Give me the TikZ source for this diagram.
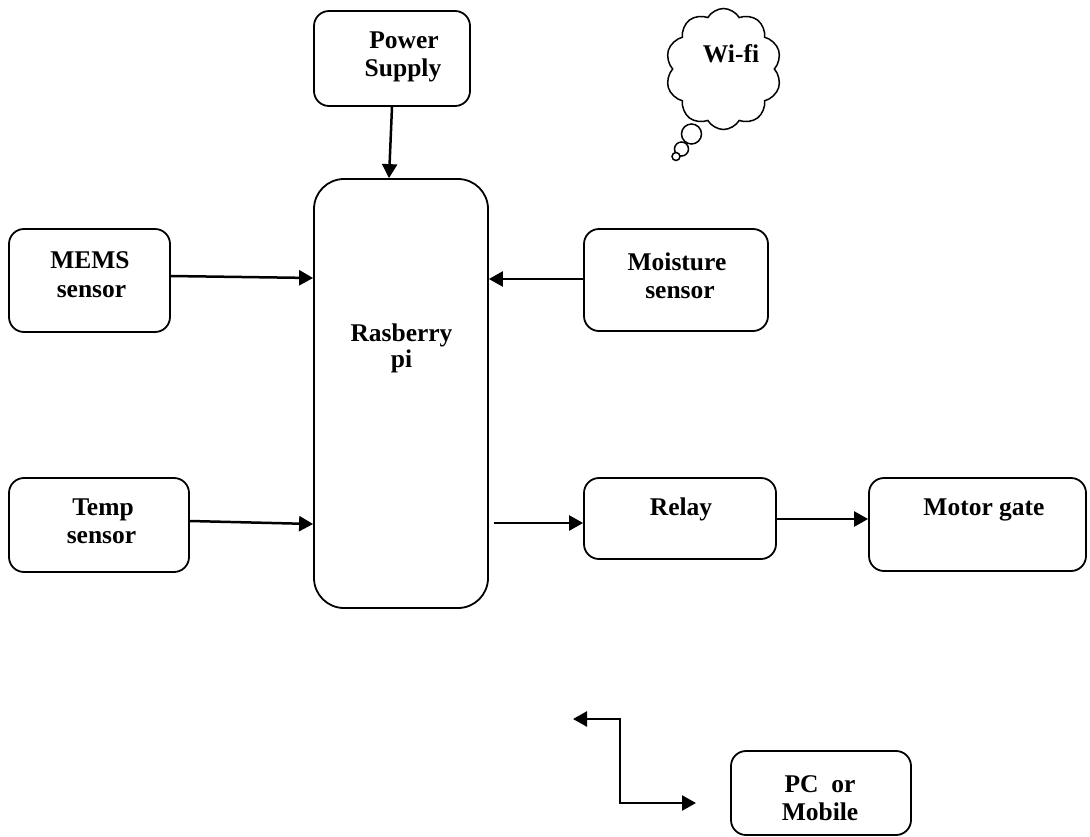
\documentclass[tikz,border=0pt]{standalone}
\usepackage{fontspec}
\setmainfont{Liberation Serif}
\usetikzlibrary{arrows.meta,shapes.symbols}
\begin{document}
\begin{tikzpicture}[x=1pt,y=-1pt,
  box/.style={draw,line width=1.8pt,rounded corners=15pt,inner sep=0pt},
  txt/.style={font=\fontsize{25.5}{28}\selectfont\bfseries,anchor=base,inner sep=0pt},
  tip/.tip={Triangle[length=14pt,width=15pt]},
  arr/.style={line width=2.5pt,-tip}]
\useasboundingbox (0,0) rectangle (1090,836);
% boxes
\node[box,minimum width=156pt,minimum height=95pt] (power) at (392,58.5) {};
\node[box,rounded corners=30pt,minimum width=174pt,minimum height=429pt] (rpi) at (401,393.5) {};
\node[box,minimum width=161pt,minimum height=103pt] (mems) at (89.5,280.5) {};
\node[box,minimum width=184pt,minimum height=102pt] (moist) at (676,280) {};
\node[box,minimum width=180pt,minimum height=94pt] (temp) at (99,525) {};
\node[box,minimum width=192pt,minimum height=81pt] (relay) at (680,518.5) {};
\node[box,minimum width=217pt,minimum height=93pt] (motor) at (977.5,524.5) {};
\node[box,minimum width=180pt,minimum height=84pt] (pc) at (821,793) {};
% texts (one node per printed line, placed on its baseline)
\node[txt] (powert1) at (404,48) {Power};
\node[txt] (powert2) at (403,76) {Supply};
\node[txt] (rpit1) at (401.5,341) {Rasberry};
\node[txt] (rpit2) at (401.5,367) {pi};
\node[txt] (memst1) at (90,268.5) {MEMS};
\node[txt] (memst2) at (91.5,297) {sensor};
\node[txt] (moistt1) at (677,270) {Moisture};
\node[txt] (moistt2) at (680,298) {sensor};
\node[txt] (tempt1) at (103,515) {Temp};
\node[txt] (tempt2) at (101.5,543) {sensor};
\node[txt] (relayt) at (681,515) {Relay};
\node[txt] (motort) at (984,515) {Motor gate};
\node[txt] (pct1) at (820,792) {PC~~or};
\node[txt] (pct2) at (820,820) {Mobile};
% cloud callout
\draw[line width=1.5pt,fill=white] (691.5,134) circle (10);
\draw[line width=1.5pt,fill=white] (681.5,149) circle (7);
\draw[line width=1.5pt,fill=white] (676,156.5) circle (4);
\node[draw,line width=1.5pt,fill=white,cloud,cloud puffs=10,cloud puff arc=120,aspect=0.95,minimum width=116pt,minimum height=121pt] (wifi) at (723.5,69) {};
\node[txt] (wifit) at (731,62) {Wi-fi};
% arrows
\draw[arr] (power.south -| 392,0) -- (rpi.north -| 389,0);
\draw[arr] (mems.east |- 0,276) -- (rpi.west |- 0,278);
\draw[arr] (moist.west |- 0,279) -- (rpi.east |- 0,279);
\draw[arr] (temp.east |- 0,521) -- (rpi.west |- 0,524);
\draw[arr] (rpi.east |- 0,523) ++(5,0) -- (relay.west |- 0,523);
\draw[arr] (relay.east |- 0,519) -- (motor.west |- 0,519);
% bottom double-headed elbow connector
\coordinate (bl) at (573,719);
\coordinate (br) at (696,803);
\draw[line width=2.5pt,tip-tip] (bl) -- (620,719) -- (620,803) -- (br);
\end{tikzpicture}
\end{document}
